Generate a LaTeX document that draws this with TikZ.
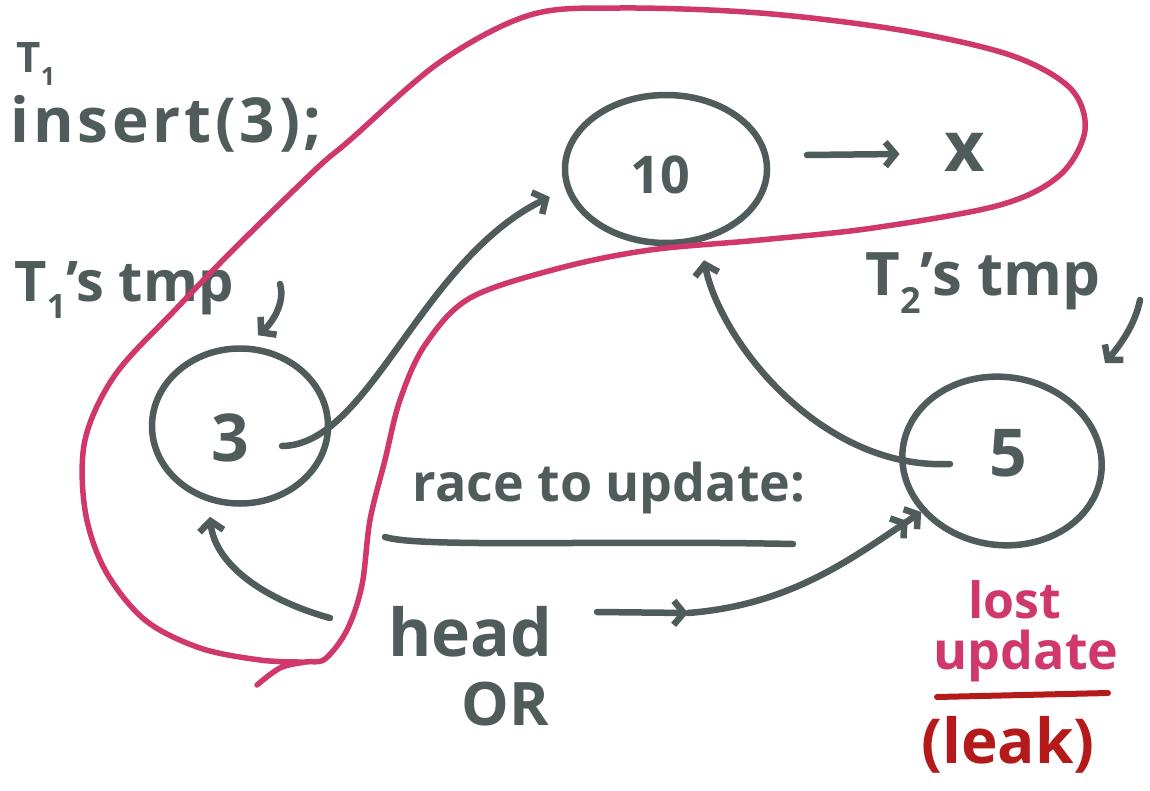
\documentclass[tikz,border=0pt]{standalone}
\usepackage{fontspec}
\setmainfont{Open Sans}
\usetikzlibrary{shapes.geometric,arrows.meta,calc}
\definecolor{ink}{HTML}{505B5B}
\definecolor{hl}{HTML}{D0386C}
\definecolor{warn}{HTML}{B51A1A}
\newcommand\sbx[1]{\raisebox{-0.3em}{\scalebox{0.6}{#1}}}
\newcommand\fsz[1]{\fontsize{#1}{#1}\selectfont\bfseries}
\begin{document}
\begin{tikzpicture}[x=1pt,y=-1pt,
  pen/.style={draw=ink,line width=6.5pt,line cap=round,line join=round},
  hpen/.style={draw=hl,line width=5.5pt,line cap=round,line join=round},
  rpen/.style={draw=warn,line width=6pt,line cap=round},
  val/.style={ellipse,pen,inner sep=0pt},
  lbl/.style={text=ink,inner sep=0pt},
  arr/.style={-{Straight Barb[length=10pt,width=24pt]}},
  darr/.style={-{Straight Barb[length=9pt,width=24pt] Straight Barb[length=9pt,width=24pt]}}]
\path[use as bounding box,fill=white] (0,0) rectangle (1150,790);
\clip (0,0) rectangle (1150,790);

% value nodes
\node[val,minimum width=202pt,minimum height=148pt] (n10) at (666,169) {};
\node[lbl,font=\fsz{52}] (t10) at (660,175) {10};
\node[val,minimum width=176pt,minimum height=155pt] (n3) at (240,426) {};
\node[lbl,font=\fsz{66}] (t3) at (230,438) {3};
\node[val,minimum width=200pt,minimum height=168pt,rotate=-8] (n5) at (1002,461) {};
\node[lbl,font=\fsz{66}] (t5) at (1008,453) {5};

% 10 -> x
\coordinate (xs) at (807,155);
\node[lbl,font=\fsz{70}] (xx) at (965,152) {x};
\draw[pen,arr] (xs) -- ($(xx.west)+(-45,2)$);

% 3 -> 10
\draw[pen,arr] ([shift={(42,20)}]n3.center) .. controls (370,445) and (420,260) .. ([shift={(-12,28)}]n10.west);
% 5 -> 10
\draw[pen,arr] ([shift={(-52,3)}]n5.center) .. controls (820,470) and (720,340) .. ([shift={(38,14)}]n10.south);

% head / OR
\node[lbl,font=\fsz{66}] (head) at (470,632) {head};
\node[lbl,font=\fsz{60}] (or) at (505,704) {OR};
\draw[pen,arr] ([shift={(-140,-14)}]head.center) .. controls (265,600) and (215,565) .. ([shift={(-30,10)}]n3.south);
\coordinate (hs) at (597,612);
\coordinate (hm) at (688,613);
\draw[pen,arr] (hs) -- (hm);
\draw[pen,darr] (hm) .. controls (790,605) and (850,560) .. (n5.south west);

% race to update
\node[lbl,font=\fsz{52}] (race) at (609,488) {race to update:};
\coordinate (u1) at (385,537);
\coordinate (u2) at (793,544);
\draw[pen] (u1) .. controls (420,548) and (600,540) .. (u2);

% tmp labels
\node[lbl,font=\fsz{56}] (tmp1) at (124,290) {T\sbx{1}'s tmp};
\coordinate (a1) at (280,284);
\draw[pen,arr] (a1) .. controls (285,300) and (275,320) .. ([shift={(18,-10)}]n3.north);
\node[lbl,font=\fsz{60}] (tmp2) at (983,283) {T\sbx{2}'s tmp};
\coordinate (a2) at (1140,300);
\draw[pen,arr] (a2) .. controls (1135,325) and (1120,345) .. (1105,363);

% insert
\node[lbl,font=\fsz{42}] (tone) at (36,64) {T\sbx{1}};
\node[lbl,font={\fsz{62}\addfontfeature{LetterSpace=6}},anchor=east] (ins) at (322,124) {insert(3);};

% pink loop
\draw[hpen] plot[smooth,tension=0.55] coordinates {
 (257,685) (280,668) (305,662) (325,659) (347,630) (362,585) (370,520)
 (385,460) (400,400) (425,345) (470,298) (560,268) (650,250) (760,240)
 (873,228) (1000,205) (1060,175) (1085,130) (1070,88) (1010,55) (900,30)
 (760,13) (620,8) (530,15) (440,62) (350,140) (315,170) (233,250)
 (175,310) (115,375) (85,440) (85,510) (105,570) (145,620) (200,648)
 (260,660) (302,662)};

% lost update
\node[text=hl,inner sep=0pt,font=\fsz{50}] (lost) at (1015,600) {lost};
\node[text=hl,inner sep=0pt,font=\fsz{52}] (upd) at (1026,656) {update};
\coordinate (r1) at (937,697);
\coordinate (r2) at (1108,693);
\draw[rpen] (r1) -- (r2);
\node[text=warn,inner sep=0pt,font=\fsz{62}] (leak) at (1008,745) {(leak)};
\end{tikzpicture}
\end{document}
